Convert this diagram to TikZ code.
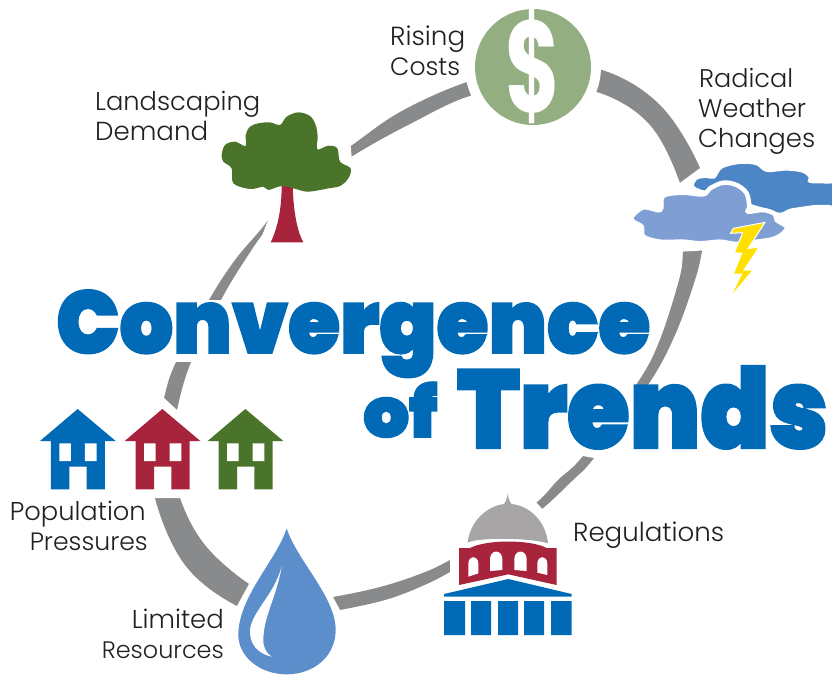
\documentclass[tikz,border=0pt]{standalone}
\usepackage{fontspec}
\usepackage{graphicx}
\setmainfont{Poppins Light}
\newfontfamily\titlefont[FakeBold=2.2]{Poppins Black}
\newfontfamily\dollarfont{Poppins Bold}
\definecolor{ringgray}{HTML}{898A8C}
\definecolor{bluemain}{HTML}{006AB6}
\definecolor{redmain}{HTML}{A8233C}
\definecolor{greenmain}{HTML}{4A742A}
\definecolor{sage}{HTML}{93AE80}
\definecolor{clouddark}{HTML}{4D86C6}
\definecolor{cloudlight}{HTML}{7F9FD4}
\definecolor{dropblue}{HTML}{5B8ECB}
\definecolor{domegray}{HTML}{A7A5A6}
\definecolor{boltyellow}{HTML}{FFE000}
\definecolor{labeltext}{HTML}{231F20}
\tikzset{
  lbl/.style={inner sep=0pt,text=labeltext,anchor=base west},
  lblr/.style={inner sep=0pt,text=labeltext,anchor=base east},
  ttl/.style={inner sep=0pt,text=bluemain,anchor=base west},
  patch/.style={fill=white,draw=none},
  zoomed/.style={x=0.33333pt,y=-0.33333pt}
}
\newcommand{\wtext}[2]{\resizebox{#1pt}{!}{\fontsize{28}{30}\selectfont #2}}
\newcommand{\htext}[3]{\resizebox{#1pt}{#2pt}{\titlefont\fontsize{60}{60}\selectfont #3}}
\newcommand{\houseat}[2]{%
  \begin{scope}[shift={(#1,390)},zoomed]
    \fill[#2] (233,57) -- (347,153) -- (315,153) -- (315,298) -- (260,298) -- (260,230) -- (208,230) -- (208,298) -- (153,298) -- (153,153) -- (120,153) -- cycle;
    \fill[white] (178,160) rectangle (213,213) (255,160) rectangle (290,213);
  \end{scope}}
\begin{document}
\begin{tikzpicture}[x=1pt,y=-1pt]
\useasboundingbox (0,0) rectangle (832,675);
\fill[white] (0,0) rectangle (832,675);
% ring
\fill[ringgray,even odd rule]
  plot[smooth cycle,tension=0.6] coordinates {(467,82)(535,66)(602,70)(660,105)(700,168)(708,215)(702,251)(695,280)(675,335)(648,385)(594,458)(573,480)(542,509)(498,543)(450,572)(420,587)(385,600)(340,610)(290,619)(237,606)(185,565)(155,498)(155,445)(164,398)(176,362)(209,300)(235,260)(262,228)(300,180)(348,148)(400,112)}
  plot[smooth cycle,tension=0.6] coordinates {(473,95)(540,88)(600,93)(650,125)(680,183)(684,220)(683,252)(679,280)(659,342)(636,385)(583,456)(558,480)(536,503)(492,534)(450,560)(420,574)(380,587)(333,597)(290,603)(249,584)(205,545)(180,498)(172,450)(177,410)(191,362)(221,300)(245,260)(270,225)(305,190)(351,157)(410,124)};
% gaps in the ring
\fill[patch] (533,67) circle (68);
\fill[patch] (262,236) -- (268,220) -- (272,190) -- (349,130) -- (352,160) -- (300,260) -- cycle;
\fill[patch] (673,188) -- (707,163) -- (712,250) -- (675,252) -- cycle;
\fill[patch] (170,300) rectangle (232,362);
\fill[patch] (575,385) -- (655,385) -- (655,460) -- (594,458) -- (583,456) -- (575,456) -- cycle;
\fill[patch] (450,510) -- (525,491) -- (555,522) -- (450,595) -- cycle;
\fill[patch] (255,573) -- (231,617) -- (231,630) -- (346,630) -- (346,621) -- (327,586) -- cycle;
\fill[patch] (151,386) -- (190,422) -- (200,498) -- (140,498) -- cycle;
% dollar
\fill[sage] (533,67) circle (58);
\node[inner sep=0pt,text=white] (dollar) at (533,67) {\resizebox{55pt}{103pt}{\dollarfont\$}};
% tree
\begin{scope}[shift={(200,90)},zoomed]
  \fill[redmain] (245,285) .. controls (245,350) and (235,410) .. (212,457) -- (310,457) .. controls (290,420) and (280,360) .. (278,285) -- cycle;
  \fill[greenmain] plot[smooth cycle,tension=0.55] coordinates {(65,195)(75,165)(105,155)(137,168)(137,135)(150,110)(175,100)(210,97)(240,105)(260,80)(295,67)(330,78)(347,105)(353,140)(352,178)(385,167)(412,175)(420,215)(452,235)(445,265)(420,288)(385,295)(360,300)(320,305)(280,295)(245,288)(205,300)(190,290)(150,297)(100,280)(95,235)(70,215)};
\end{scope}
% clouds
\begin{scope}[shift={(600,60)},zoomed]
  \begin{scope}
    \clip (0,0) rectangle (696,750);
    \fill[clouddark,draw=white,line width=2.5pt] plot[smooth cycle,tension=0.55] coordinates {(278,378)(290,355)(320,350)(342,352)(365,322)(420,308)(470,312)(500,332)(560,328)(610,335)(630,352)(630,365)(680,367)(730,372)(730,440)(680,438)(650,438)(600,445)(570,450)(540,462)(500,450)(450,435)(420,420)(340,400)(300,392)};
  \end{scope}
  \fill[cloudlight,draw=white,line width=4.5pt] plot[smooth cycle,tension=0.55] coordinates {(95,470)(130,442)(180,450)(185,415)(200,403)(250,398)(310,403)(330,385)(370,368)(410,375)(440,400)(448,440)(445,455)(490,450)(525,462)(530,480)(560,500)(550,520)(520,537)(470,545)(410,552)(360,545)(300,550)(250,545)(180,545)(130,530)(125,500)(100,485)};
  \fill[boltyellow,draw=white,line width=1pt] (392,520) -- (400,505) -- (495,487) -- (445,565) -- (477,562) -- (432,630) -- (460,630) -- (390,712) -- (425,642) -- (400,642) -- (425,580) -- (403,578) -- (428,518) -- cycle;
\end{scope}
% houses
\houseat{0}{bluemain}
\houseat{84.67}{redmain}
\houseat{167.67}{greenmain}
% drop
\begin{scope}[shift={(0,390)},zoomed]
  \fill[dropblue] (860,415) .. controls (830,510) and (715,620) .. (715,735) .. controls (715,800) and (780,853) .. (860,853) .. controls (940,853) and (1007,800) .. (1007,720) .. controls (1007,620) and (890,510) .. (860,415) -- cycle;
  \fill[white] (845,530) .. controls (830,620) and (790,680) .. (790,750) .. controls (790,775) and (800,790) .. (815,800) .. controls (770,790) and (750,760) .. (750,725) .. controls (750,670) and (820,620) .. (845,530) -- cycle;
\end{scope}
% capitol
\begin{scope}[shift={(420,480)},zoomed]
  \fill[domegray] (143,187) .. controls (150,125) and (200,78) .. (252,72) .. controls (258,65) and (261,55) .. (263,40) .. controls (265,55) and (268,65) .. (275,72) .. controls (330,78) and (378,125) .. (384,190) .. controls (340,175) and (190,170) .. (143,187) -- cycle;
  \fill[redmain] (117,204) -- (150,204) .. controls (200,178) and (330,178) .. (380,204) -- (410,204) -- (410,315) -- (265,283) -- (117,315) -- cycle;
  \fill[white] (145,290) -- (145,250) .. controls (147,225) and (173,225) .. (175,250) -- (175,280) -- cycle;
  \fill[white] (210,273) -- (210,235) .. controls (213,208) and (244,208) .. (247,235) -- (247,270) -- cycle;
  \fill[white] (283,270) -- (283,235) .. controls (286,208) and (317,208) .. (320,235) -- (320,273) -- cycle;
  \fill[white] (352,278) -- (352,250) .. controls (354,225) and (380,225) .. (382,250) -- (382,285) -- cycle;
  \fill[bluemain] (72,342) -- (265,297) -- (455,342) -- (455,350) -- (72,350) -- cycle;
  \fill[bluemain] (72,363) rectangle (135,465) (153,363) rectangle (213,465) (234,363) rectangle (294,465) (312,363) rectangle (372,465) (393,363) rectangle (455,465);
\end{scope}
% title
\node[ttl] (conv) at (56,353) {\htext{594}{63}{Convergence}};
\node[ttl] (of) at (363,437) {\htext{74}{55}{of}};
\node[ttl] (trends) at (457,448) {\htext{371}{82}{Trends}};
% labels
\node[lbl] (rising) at (390,45) {\wtext{75}{Rising}};
\node[lbl] (costs) at (390,75) {\wtext{70}{Costs}};
\node[lbl] (land) at (95,110) {\wtext{165}{Landscaping}};
\node[lbl] (demand) at (95,140) {\wtext{113}{Demand}};
\node[lbl] (radical) at (699,87) {\wtext{94}{Radical}};
\node[lbl] (weather) at (698,117) {\wtext{108}{Weather}};
\node[lbl] (changes) at (698,147) {\wtext{117}{Changes}};
\node[lblr] (pop) at (146,520) {\wtext{136}{Population}};
\node[lblr] (press) at (148,550) {\wtext{118}{Pressures}};
\node[lblr] (limited) at (224,628) {\wtext{92}{Limited}};
\node[lblr] (resources) at (224,658) {\wtext{122}{Resources}};
\node[lbl] (reg) at (573,541) {\wtext{151}{Regulations}};
\end{tikzpicture}
\end{document}
